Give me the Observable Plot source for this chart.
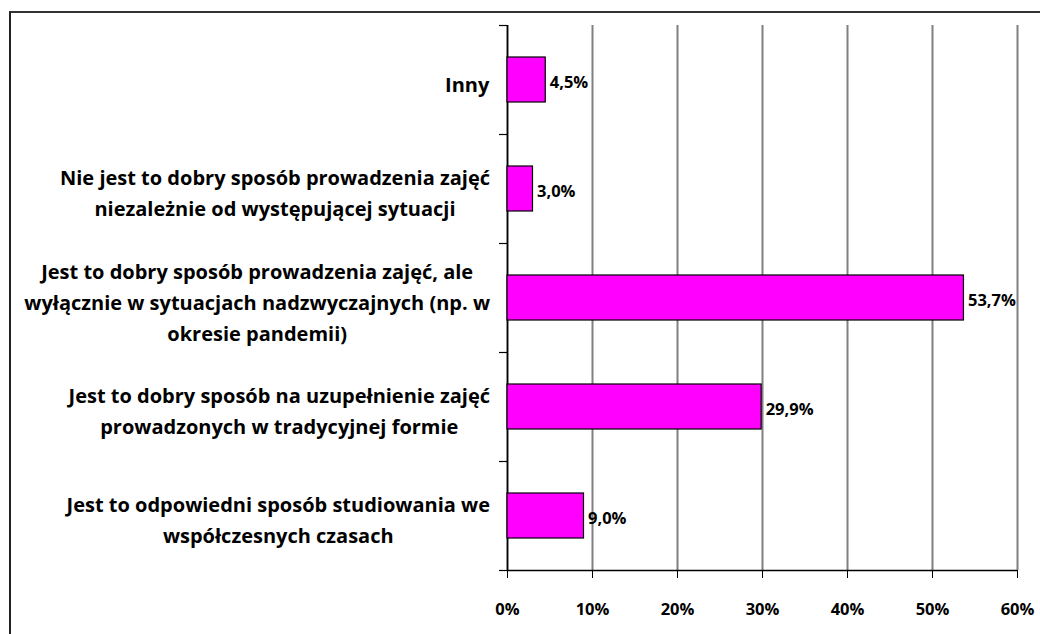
<!DOCTYPE html>
<html>
<head>
<meta charset="utf-8">
<script src="https://cdn.jsdelivr.net/npm/d3@7"></script>
<script src="https://cdn.jsdelivr.net/npm/@observablehq/plot@0.6"></script>
<style>
  html, body { margin: 0; padding: 0; background: #fff; overflow: hidden; }
  #wrap { position: relative; width: 1040px; height: 634px; }
  #frame { position: absolute; left: 9px; top: 11px; width: 1100px; height: 700px;
           border-left: 2px solid #222; border-top: 2px solid #333; box-sizing: border-box; pointer-events: none; }
  svg { font-family: "Open Sans", sans-serif; font-weight: bold; }
</style>
</head>
<body>
<div id="wrap"><div id="frame"></div></div>
<script>
const categories = [
  "Inny",
  "Nie jest to dobry sposób prowadzenia zajęć\nniezależnie od występującej sytuacji",
  "Jest to dobry sposób prowadzenia zajęć, ale\nwyłącznie w sytuacjach nadzwyczajnych (np. w\nokresie pandemii)",
  "Jest to dobry sposób na uzupełnienie zajęć\nprowadzonych w tradycyjnej formie",
  "Jest to odpowiedni sposób studiowania we\nwspółczesnych czasach"
];
const values = [0.045, 0.030, 0.537, 0.299, 0.090];
const xTicks = [0, 0.1, 0.2, 0.3, 0.4, 0.5, 0.6];

const data = categories.map((c, i) => ({label: c, value: values[i], i}));
const boundaries = d3.range(categories.length + 1);
const centers = d3.range(categories.length).map(i => i + 0.5);
const fmtVal = v => (v * 100).toFixed(1).replace(".", ",") + "%";

const chart = Plot.plot({
  width: 1040,
  height: 634,
  marginLeft: 507,
  marginRight: 23,
  marginTop: 25,
  marginBottom: 64,
  style: {fontFamily: "'Open Sans', sans-serif", fontWeight: "bold", fontSize: "16px", color: "#000", background: "transparent"},
  x: {domain: [0, 0.6], label: null},
  y: {domain: [categories.length, 0], range: [634 - 64, 25], label: null},
  marks: [
    Plot.gridX(xTicks, {stroke: "#808080", strokeOpacity: 1, strokeWidth: 2}),
    Plot.ruleX([0], {stroke: "#000", strokeWidth: 1.5}),
    Plot.ruleY([categories.length], {stroke: "#000", strokeWidth: 1.5}),
    Plot.rectX(data, {
      x1: 0, x2: "value", y1: "i", y2: d => d.i + 1,
      insetTop: 32, insetBottom: 32,
      fill: "#FF00FF", stroke: "#000", strokeWidth: 1.2
    }),
    Plot.text(data, {
      x: "value", y: d => d.i + 0.5, text: d => fmtVal(d.value),
      textAnchor: "start", dx: 4, dy: 3, fontSize: 16.5, fontWeight: "bold", fill: "#000"
    }),
    Plot.axisX({ticks: xTicks, tickFormat: d3.format(".0%"), tickSize: 8, tickPadding: 25, stroke: "#000", fontSize: 16.5, fontWeight: "bold", label: null}),
    Plot.axisY({ticks: boundaries, tickFormat: () => "", tickSize: 8, stroke: "#000", strokeWidth: 1.2, label: null}),
    Plot.axisY({ticks: centers, tickSize: 0, tickPadding: 17, textAnchor: "middle", dy: 2,
      tickFormat: d => categories[Math.floor(d)], fontSize: 20, fontWeight: "bold", lineHeight: 1.55,
      label: null})
  ]
});

document.getElementById("wrap").prepend(chart);

// Excel-style: each label block right-aligned near the axis, lines centred within block
const rightEdge = 507 - 17;
const svgLeft = chart.getBoundingClientRect().left;
const firstLines = categories.map(c => c.split("\n")[0]);
Array.from(chart.querySelectorAll("text")).forEach(t => {
  const txt = t.textContent || "";
  if (!firstLines.some(f => txt.startsWith(f))) return;
  const r = t.getBoundingClientRect();
  if (!r.width) return;
  const shift = rightEdge - (r.right - svgLeft);
  const tr = t.getAttribute("transform") || "";
  t.setAttribute("transform", `translate(${shift},0) ${tr}`);
});
</script>
</body>
</html>
